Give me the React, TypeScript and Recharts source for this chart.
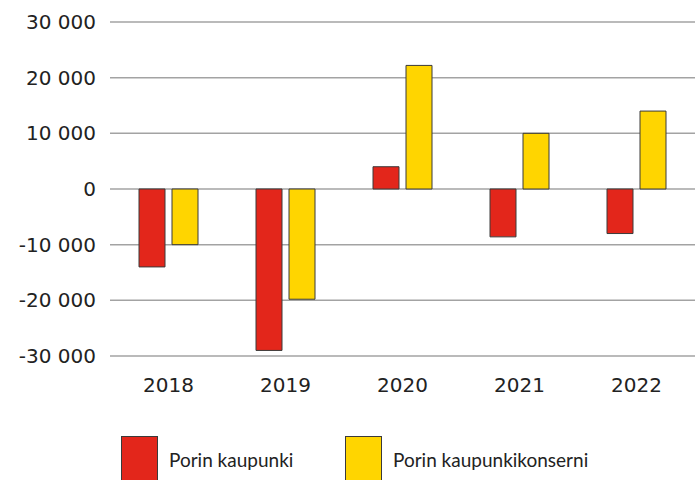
import React from 'react'
import { BarChart, Bar, XAxis, YAxis, CartesianGrid } from 'recharts'

const years = ['2018', '2019', '2020', '2021', '2022']
const kaupunki = [-14000, -29000, 4000, -8600, -8000]
const konserni = [-10000, -19800, 22200, 10000, 14000]
const yTicks = [-30000, -20000, -10000, 0, 10000, 20000, 30000]

const SERIES = [
    { key: 'kaupunki', name: 'Porin kaupunki', color: '#E3261B' },
    { key: 'konserni', name: 'Porin kaupunkikonserni', color: '#FFD500' },
]

const data = years.map((year, i) => ({
    year,
    kaupunki: kaupunki[i],
    konserni: konserni[i],
}))

// "30 000" style thousands separator
const fmt = (v: number) => {
    const s = Math.abs(v).toString().replace(/\B(?=(\d{3})+(?!\d))/g, ' ')
    return v < 0 ? '-' + s : s
}

export default function App() {
    return (
        <div style={{ position: 'absolute', left: 0, top: 0, width: 699, height: 480, overflow: 'hidden', background: '#fff' }}>
            <BarChart
                width={699}
                height={420}
                data={data}
                margin={{ top: 22, right: 4, bottom: 0, left: 0 }}
                barSize={26}
                barGap={7}
            >
                <CartesianGrid vertical={false} stroke="#a3a3a3" strokeWidth={1.5} />
                <XAxis
                    dataKey="year"
                    axisLine={false}
                    tickLine={false}
                    tickSize={6}
                    tickMargin={16}
                    height={64}
                    tick={{ fill: '#222', fontSize: 20, fontFamily: 'DejaVu Sans' }}
                />
                <YAxis
                    domain={[-30000, 30000]}
                    ticks={yTicks}
                    tickFormatter={fmt}
                    axisLine={false}
                    tickLine={false}
                    tickSize={6}
                    tickMargin={8}
                    width={110}
                    interval={0}
                    tick={{ fill: '#222', fontSize: 20, fontFamily: 'DejaVu Sans' }}
                />
                {SERIES.map(s => (
                    <Bar
                        key={s.key}
                        dataKey={s.key}
                        name={s.name}
                        fill={s.color}
                        stroke="#3a3a3a"
                        strokeWidth={1}
                        isAnimationActive={false}
                    />
                ))}
            </BarChart>
            {/* legend drawn by hand, squares run off the bottom edge like the original */}
            <div style={{ position: 'absolute', top: 436, left: 121, display: 'flex', fontFamily: 'Lato', fontSize: 19, color: '#222' }}>
                {SERIES.map((s, i) => (
                    <div key={s.key} style={{ display: 'flex', alignItems: 'flex-start', width: i === 0 ? 224 : 260 }}>
                        <div style={{ width: 37, height: 50, background: s.color, border: '1px solid #3a3a3a', boxSizing: 'border-box' }} />
                        <span style={{ marginLeft: 11, marginTop: 13, lineHeight: 1.2 }}>{s.name}</span>
                    </div>
                ))}
            </div>
        </div>
    )
}
